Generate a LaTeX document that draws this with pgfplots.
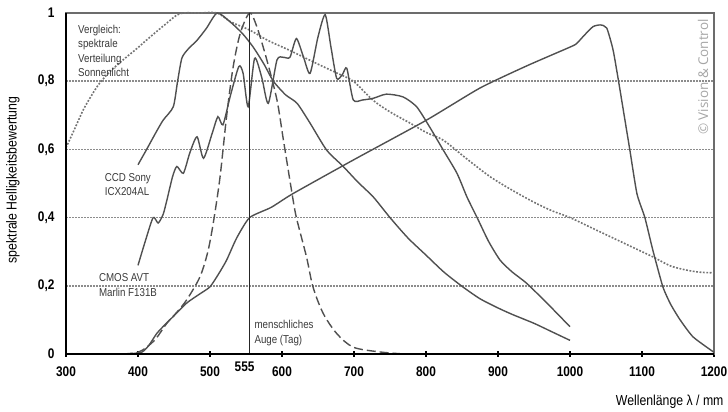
\documentclass[border=0pt]{standalone}
\usepackage{fontspec}
\setmainfont{Liberation Sans}[FakeStretch=0.85]
\newfontfamily\cfont{Open Sans}
\usepackage{pgfplots}
\pgfplotsset{compat=1.18}
\definecolor{curve}{HTML}{505050}
\definecolor{txt}{HTML}{3A3A3A}
\begin{document}
\begin{tikzpicture}
\path[use as bounding box] (0,0) rectangle (728bp,412bp);
\begin{axis}[
  at={(66bp,58bp)}, anchor=south west, scale only axis,
  width=648bp, height=341bp,
  xmin=300, xmax=1200, ymin=0, ymax=1,
  xtick={300,400,500,600,700,800,900,1000,1100,1200},
  extra x ticks={555},
  extra x tick style={tick label style={xshift=-5bp, yshift=2bp}, major tick length=0pt},
  ytick={0,0.2,0.4,0.6,0.8,1},
  tick pos=left,
  ymajorgrids,
  major grid style={dash pattern=on 1.5bp off 1.5bp, gray!90, line width=1.6bp},
  axis line style={draw=gray!85!black, line width=1.3bp},
  x tick style={black, line width=1.3bp},
  major tick length=6bp, tick align=center,
  y tick style={draw=none},
  /pgf/number format/assume math mode=true,
  /pgf/number format/use comma,
  /pgf/number format/1000 sep={},
  xticklabel style={font=\bfseries\fontsize{14}{14}\selectfont, yshift=-6bp},
  yticklabel style={font=\bfseries\fontsize{14}{14}\selectfont, xshift=-5bp},
  every axis plot/.append style={line width=1.4bp, no marks},
  clip=false,
]
% Sonnenlicht (dotted)
\addplot[curve!80, dash pattern=on 1.8bp off 1.6bp, line width=1.6bp, smooth, tension=0.5] coordinates {
(300,0.605)(312,0.66)(324,0.716)(336,0.76)(347,0.795)(362,0.83)(379,0.862)(398,0.895)(417,0.93)(437,0.965)(458,0.998)(485,1.0)(510,1.0)(528,0.975)(555,0.95)(580,0.92)(611,0.89)(650,0.85)(675,0.825)(699,0.80)(726,0.745)(750,0.71)(778,0.677)(800,0.65)(824,0.627)(855,0.575)(889,0.52)(920,0.48)(950,0.445)(975,0.42)(1000,0.40)(1030,0.37)(1060,0.34)(1090,0.31)(1115,0.285)(1140,0.258)(1162,0.246)(1180,0.24)(1200,0.238)
};
% CCD Sony ICX204AL
\addplot[curve, smooth, tension=0.4] coordinates {
(400,0.555)(412,0.6)(425,0.65)(435,0.686)(449,0.725)(455,0.8)(461,0.868)(470,0.895)(482,0.92)(495,0.955)(510,1.0)(528,0.974)(545,0.94)(560,0.9)(575,0.85)(588,0.80)(605,0.76)(621,0.735)(639,0.677)(662,0.598)(685,0.55)(705,0.505)(727,0.46)(750,0.40)(775,0.34)(800,0.29)(825,0.24)(851,0.197)(875,0.162)(900,0.135)(921,0.115)(950,0.09)(975,0.065)(1000,0.04)
};
% CMOS AVT Marlin F131B
\addplot[curve, smooth, tension=0.4] coordinates {
(400,0.26)(410,0.33)(421,0.40)(428,0.384)(435,0.41)(440,0.45)(448,0.52)(454,0.55)(463,0.53)(472,0.59)(482,0.637)(491,0.574)(503,0.647)(511,0.696)(518,0.672)(528,0.755)(540,0.843)(546,0.823)(553,0.725)(562,0.867)(572,0.81)(581,0.735)(593,0.862)(602,0.87)(611,0.87)(620,0.925)(630,0.87)(639,0.823)(650,0.93)(660,0.995)(668,0.9)(676,0.808)(684,0.82)(690,0.838)(699,0.745)(712,0.745)(727,0.75)(745,0.762)(768,0.754)(787,0.725)(805,0.666)(824,0.598)(843,0.53)(857,0.46)(871,0.40)(887,0.33)(903,0.275)(920,0.24)(940,0.207)(970,0.145)(1000,0.08)
};
% menschliches Auge (dashed)
\addplot[curve, dash pattern=on 9bp off 4bp, smooth, tension=0.5] coordinates {
(380,0)(400,0.005)(412,0.02)(425,0.045)(440,0.09)(455,0.125)(468,0.16)(486,0.226)(497,0.3)(505,0.39)(514,0.52)(523,0.696)(532,0.84)(542,0.94)(555,1.0)(565,0.96)(579,0.862)(593,0.745)(602,0.627)(614,0.47)(620,0.40)(634,0.285)(643,0.197)(657,0.12)(676,0.06)(699,0.02)(736,0.006)(770,0.0)
};
% Vierte Kurve
\addplot[curve, smooth, tension=0.35] coordinates {
(385,0)(405,0.005)(415,0.025)(426,0.06)(437,0.085)(449,0.11)(468,0.15)(485,0.175)(500,0.197)(512,0.235)(523,0.275)(537,0.34)(555,0.40)(585,0.43)(615,0.47)(700,0.57)(800,0.685)(875,0.78)(940,0.845)(1000,0.90)(1009,0.91)(1020,0.935)(1032,0.96)(1042,0.965)(1051,0.956)(1060,0.89)(1069,0.78)(1076,0.69)(1083,0.60)(1093,0.47)(1104,0.40)(1115,0.305)(1129,0.197)(1140,0.145)(1153,0.10)(1171,0.05)(1200,0.005)
};
% 555 nm line
\addplot[black!85, line width=1.2bp] coordinates {(555,0)(555,1)};

\node[anchor=north west, align=left, text=txt, font=\fontsize{11.5}{14.5}\selectfont] at (axis cs:312,0.975) {Vergleich:\\spektrale\\Verteilung\\Sonnenlicht};
\node[anchor=north west, align=left, text=txt, font=\fontsize{11.5}{14.5}\selectfont] at (axis cs:349,0.54) {CCD Sony\\ICX204AL};
\node[anchor=north west, align=left, text=txt, font=\fontsize{11.5}{14.5}\selectfont] at (axis cs:341,0.245) {CMOS AVT\\Marlin F131B};
\node[anchor=north west, align=left, text=txt, font=\fontsize{11.5}{14.5}\selectfont] at (axis cs:557,0.108) {menschliches\\Auge (Tag)};
\end{axis}
\draw[black, line width=2.4bp] (66bp,399bp) -- (66bp,58bp) -- (714bp,58bp);
\node[rotate=90, font=\fontsize{14.5}{14.5}\selectfont, text=black] at (13bp,232bp) {spektrale Helligkeitsbewertung};
\node[anchor=base east, font=\fontsize{14.5}{14.5}\selectfont] at (727bp,7bp) {Wellenlänge λ / mm};
\node[rotate=90, font=\cfont\fontsize{13.5}{13.5}\selectfont, text=black!35] at (703bp,335bp) {© Vision \& Control};
\end{tikzpicture}
\end{document}
